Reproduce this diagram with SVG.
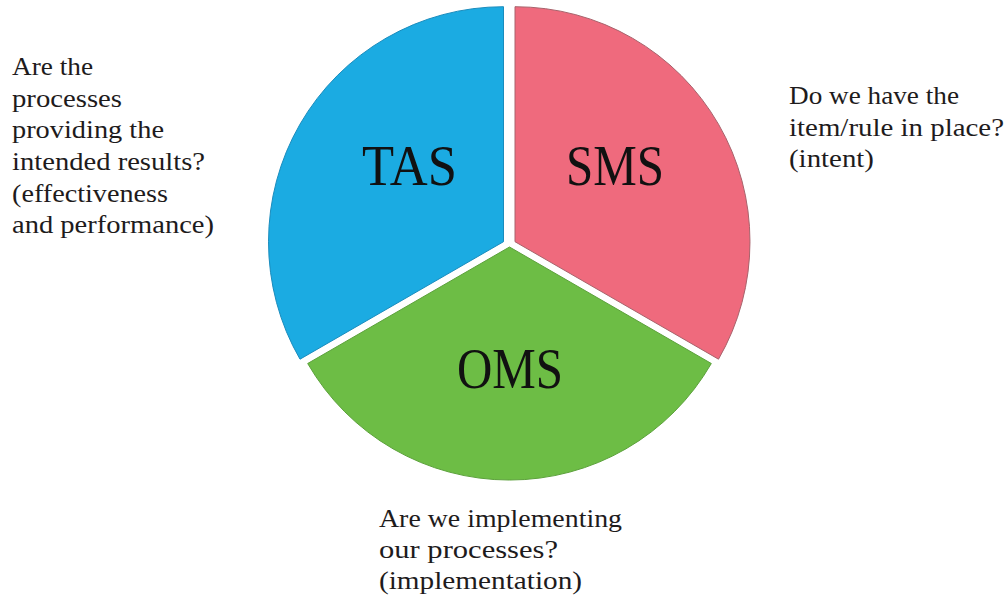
<svg xmlns="http://www.w3.org/2000/svg" width="1008" height="599" viewBox="0 0 1008 599">
<style>
.big{font-family:"Liberation Serif","Times New Roman",serif;font-size:57px;fill:#111111}
.note{font-family:"Liberation Serif","Times New Roman",serif;font-size:25px;fill:#1e1b1c}
</style>
<rect width="1008" height="599" fill="#ffffff"/>
<g id="tas">
<path d="M503.5,241.7 L503.5,6.7 A235,235 0 0 0 300,359.2 Z" fill="#1babe2" stroke="#1a8cbd" stroke-width="1"/>
<text class="big" x="362" y="185" textLength="95" lengthAdjust="spacingAndGlyphs">TAS</text>
</g>
<g id="sms">
<path d="M515,241.7 L515,6.7 A235,235 0 0 1 718.5,359.2 Z" fill="#ef6a7d" stroke="#a8636c" stroke-width="1"/>
<text class="big" x="566" y="185" textLength="98" lengthAdjust="spacingAndGlyphs">SMS</text>
</g>
<g id="oms">
<path d="M509.5,247 L711.3,363.5 A233,233 0 0 1 307.7,363.5 Z" fill="#6dbd45" stroke="#5ba13a" stroke-width="1"/>
<text class="big" x="457" y="388" textLength="106" lengthAdjust="spacingAndGlyphs">OMS</text>
</g>
<g id="connectors"></g>
<g id="note-tas" font-family="Liberation Serif, serif">
<text class="note" x="12" y="75" textLength="81" lengthAdjust="spacingAndGlyphs">Are the</text>
<text class="note" x="12" y="107" textLength="110" lengthAdjust="spacingAndGlyphs">processes</text>
<text class="note" x="12" y="138" textLength="152" lengthAdjust="spacingAndGlyphs">providing the</text>
<text class="note" x="12" y="170" textLength="193" lengthAdjust="spacingAndGlyphs">intended results?</text>
<text class="note" x="12" y="202" textLength="156" lengthAdjust="spacingAndGlyphs">(effectiveness</text>
<text class="note" x="12" y="233" textLength="202" lengthAdjust="spacingAndGlyphs">and performance)</text>
</g>
<g id="note-sms">
<text class="note" x="789" y="104" textLength="170" lengthAdjust="spacingAndGlyphs">Do we have the</text>
<text class="note" x="789" y="136" textLength="215" lengthAdjust="spacingAndGlyphs">item/rule in place?</text>
<text class="note" x="789" y="167" textLength="85" lengthAdjust="spacingAndGlyphs">(intent)</text>
</g>
<g id="note-oms">
<text class="note" x="379" y="527" textLength="243" lengthAdjust="spacingAndGlyphs">Are we implementing</text>
<text class="note" x="379" y="558" textLength="179" lengthAdjust="spacingAndGlyphs">our processes?</text>
<text class="note" x="379" y="589" textLength="203" lengthAdjust="spacingAndGlyphs">(implementation)</text>
</g>
</svg>
